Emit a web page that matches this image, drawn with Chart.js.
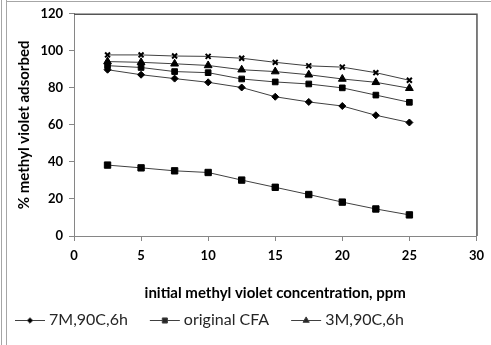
<!DOCTYPE html>
<html>
<head>
<meta charset="utf-8">
<script src="https://cdn.jsdelivr.net/npm/chart.js@4.4.1/dist/chart.umd.min.js"></script>
<style>
    html, body { margin: 0; padding: 0; background: #fff; }
    #wrap { position: relative; width: 491px; height: 345px; }
</style>
</head>
<body>
<div id="wrap"><canvas id="chart" width="491" height="345"></canvas></div>
<script>
(function() {
    'use strict';

    // data
    var concentrations = [2.5, 5, 7.5, 10, 12.5, 15, 17.5, 20, 22.5, 25];
    var sevenM = [89.8, 87.1, 85.0, 83.0, 80.2, 75.2, 72.4, 70.2, 65.2, 61.3];
    var originalCFA = [38.3, 36.8, 35.2, 34.3, 30.2, 26.3, 22.4, 18.3, 14.6, 11.4];
    var threeM = [94.2, 93.8, 93.0, 92.1, 89.8, 88.8, 87.1, 84.8, 83.0, 79.8];
    var unnamedSquares = [92.0, 91.0, 88.8, 88.2, 84.8, 83.2, 82.1, 80.0, 76.1, 72.2];
    var unnamedCrosses = [97.8, 97.8, 97.2, 97.0, 96.0, 93.8, 91.9, 91.2, 88.2, 84.1];
    var xTicks = [0, 5, 10, 15, 20, 25, 30];
    var yTicks = [0, 20, 40, 60, 80, 100, 120];

    var lineColor = '#404040';
    var labelFont = 'Lato';

    function toPoints(values) {
        return concentrations.map(function(c, i) { return { x: c, y: values[i] }; });
    }

    function series(label, values, style, radius, inLegend) {
        return {
            label: label,
            data: toPoints(values),
            borderColor: lineColor,
            borderWidth: 1,
            backgroundColor: '#000',
            pointStyle: style,
            pointRadius: radius,
            pointHoverRadius: radius,
            pointBackgroundColor: '#000',
            pointBorderColor: '#000',
            pointBorderWidth: style === 'crossRot' ? 2 : 1,
            tension: 0,
            inLegend: inLegend
        };
    }

    var datasets = [
        series('7M,90C,6h', sevenM, 'rectRot', 3.5, true),
        series('original CFA', originalCFA, 'rect', 4.5, true),
        series('3M,90C,6h', threeM, 'triangle', 4.5, true),
        series('', unnamedSquares, 'rect', 4, false),
        series('', unnamedCrosses, 'crossRot', 3.5, false)
    ];

    // page frame, plot border and the line+marker legend
    var decorations = {
        id: 'decorations',
        afterDraw: function(chart) {
            var ctx = chart.ctx;
            var area = chart.chartArea;
            ctx.save();
            ctx.strokeStyle = '#a6a6a6';
            ctx.lineWidth = 1;
            ctx.beginPath();
            ctx.moveTo(1.5, 0); ctx.lineTo(1.5, 345);
            ctx.moveTo(6.5, 0); ctx.lineTo(6.5, 345);
            ctx.moveTo(6, 1.5); ctx.lineTo(491, 1.5);
            ctx.stroke();

            ctx.strokeStyle = '#555';
            ctx.lineWidth = 1.5;
            ctx.beginPath();
            ctx.moveTo(area.left, area.top + 0.5);
            ctx.lineTo(area.right + 0.5, area.top + 0.5);
            ctx.lineTo(area.right + 0.5, area.bottom);
            ctx.stroke();

            var y = 320;
            var x = 15;
            ctx.font = '16px ' + labelFont;
            ctx.textBaseline = 'middle';
            ctx.textAlign = 'left';
            chart.data.datasets.forEach(function(ds) {
                if (!ds.inLegend) return;
                ctx.strokeStyle = lineColor;
                ctx.lineWidth = 1;
                ctx.beginPath();
                ctx.moveTo(x, y + 0.5);
                ctx.lineTo(x + 30, y + 0.5);
                ctx.stroke();
                Chart.helpers.drawPoint(ctx, {
                    pointStyle: ds.pointStyle,
                    radius: ds.pointRadius * 0.8,
                    rotation: 0,
                    borderWidth: ds.pointBorderWidth
                }, x + 15, y + 0.5);
                ctx.fillStyle = '#262626';
                ctx.fillText(ds.label, x + 34, y);
                x += 34 + ctx.measureText(ds.label).width + 22;
            });
            ctx.restore();
        }
    };

    new Chart(document.getElementById('chart').getContext('2d'), {
        type: 'line',
        data: { datasets: datasets },
        plugins: [decorations],
        options: {
            responsive: false,
            animation: false,
            layout: { padding: { top: 12, right: 10, bottom: 40, left: 0 } },
            plugins: {
                legend: { display: false },
                tooltip: { enabled: false }
            },
            scales: {
                x: {
                    type: 'linear',
                    min: 0,
                    max: 30,
                    afterBuildTicks: function(scale) {
                        scale.ticks = xTicks.map(function(v) { return { value: v }; });
                    },
                    afterFit: function(scale) { scale.height = 69; },
                    grid: { drawOnChartArea: false, tickLength: 5, color: '#868686' },
                    border: { color: '#868686' },
                    ticks: {
                        padding: 7,
                        color: '#000',
                        font: { family: labelFont, size: 13, weight: 'bold' }
                    },
                    title: {
                        display: true,
                        text: 'initial methyl violet concentration, ppm',
                        color: '#000',
                        padding: { top: 0, bottom: 3 },
                        font: { family: labelFont, size: 15, weight: 'bold' }
                    }
                },
                y: {
                    min: 0,
                    max: 120,
                    afterBuildTicks: function(scale) {
                        scale.ticks = yTicks.map(function(v) { return { value: v }; });
                    },
                    afterFit: function(scale) { scale.width = 74; },
                    grid: { drawOnChartArea: false, tickLength: 5, color: '#868686' },
                    border: { color: '#868686' },
                    ticks: {
                        padding: 6,
                        color: '#000',
                        font: { family: labelFont, size: 13, weight: 'bold' }
                    },
                    title: {
                        display: true,
                        text: '% methyl violet adsorbed',
                        color: '#000',
                        padding: { top: 15, bottom: 0 },
                        font: { family: labelFont, size: 15, weight: 'bold' }
                    }
                }
            }
        }
    });
})();
</script>
</body>
</html>
